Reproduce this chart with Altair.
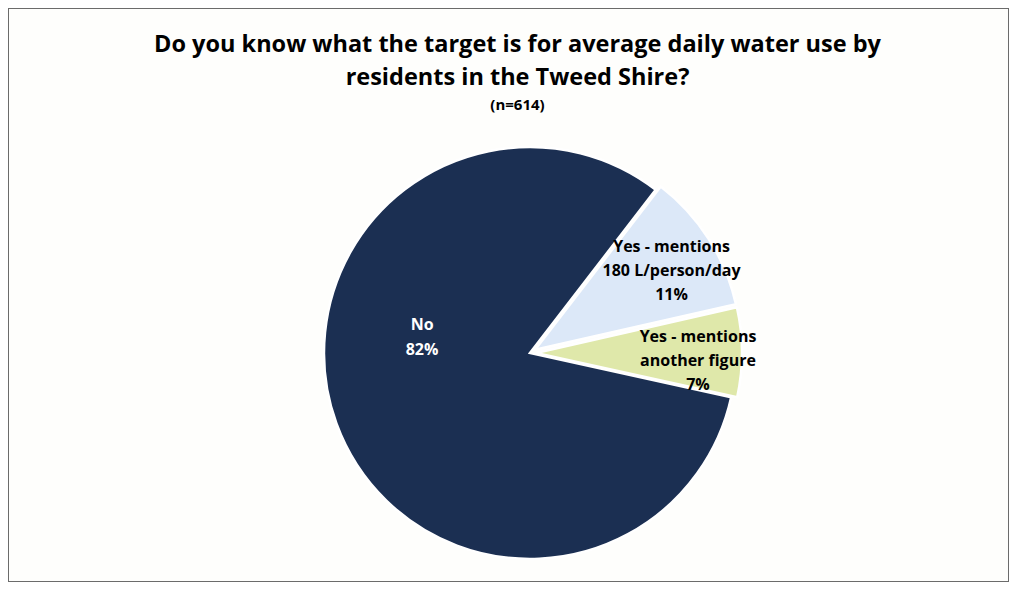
import math
import altair as alt
import pandas as pd

# ---- data ----
categories = ["No", "Yes - mentions 180 L/person/day", "Yes - mentions another figure"]
percents = [82, 11, 7]
label_text = ["No\n82%", "Yes - mentions\n180 L/person/day\n11%", "Yes - mentions\nanother figure\n7%"]
exploded = [0, 1, 1]
slice_order = [1, 2, 3]

colors = ["#1b2f52", "#dce8f8", "#dfe8aa"]

title_lines = ["Do you know what the target is for average daily water use by",
               "residents in the Tweed Shire?"]
subtitle = "(n=614)"

# ---- layout / style ----
W, H = 1001, 574
CX, CY = 522, 345
R = 206
EXPLODE = 6
START = math.radians(102.4)
TWO_PI = 2 * math.pi
FONT = "Open Sans"

df = pd.DataFrame({
    "cat": categories,
    "pct": percents,
    "label": label_text,
    "explode": exploded,
    "ord": slice_order,
})

base = alt.Chart(df).transform_window(
    cum="sum(pct)", sort=[alt.SortField("ord")], frame=[None, 0]
).transform_calculate(
    end="datum.cum",
    start="datum.cum - datum.pct",
    ang=f"{START} + (datum.cum - datum.pct/2) / 100 * {TWO_PI}",
).transform_calculate(
    px=f"{CX} + datum.explode * {EXPLODE} * sin(datum.ang)",
    py=f"{CY} - datum.explode * {EXPLODE} * cos(datum.ang)",
)

theta_scale = alt.Scale(domain=[0, 100], range=[START, START + TWO_PI])

arcs = base.mark_arc(outerRadius=R, stroke="white", strokeWidth=2.5).encode(
    theta=alt.Theta("start:Q", scale=theta_scale, stack=None),
    theta2="end:Q",
    x=alt.X("px:Q", scale=None),
    y=alt.Y("py:Q", scale=None),
    color=alt.Color("cat:N", scale=alt.Scale(domain=categories, range=colors), legend=None),
)

dark_labels = base.transform_filter("datum.ord == 1").transform_calculate(
    lx="datum.px + 109 * sin(datum.ang + 0.49)",
    ly="datum.py - 109 * cos(datum.ang + 0.49)",
).mark_text(
    font=FONT, fontWeight="bold", fontSize=16, color="white",
    lineBreak="\n", lineHeight=25, align="center", baseline="middle", dy=-13,
).encode(
    x=alt.X("lx:Q", scale=None), y=alt.Y("ly:Q", scale=None), text="label:N"
)

light_labels = base.transform_filter("datum.ord != 1").transform_calculate(
    lx="datum.px + 162 * sin(datum.ang)",
    ly="datum.py - 162 * cos(datum.ang)",
).mark_text(
    font=FONT, fontWeight="bold", fontSize=16, color="black",
    lineBreak="\n", lineHeight=24, align="center", baseline="middle", dy=-15,
).encode(
    x=alt.X("lx:Q", scale=None), y=alt.Y("ly:Q", scale=None), text="label:N"
)

chart = alt.layer(arcs, dark_labels, light_labels).properties(
    width=W, height=H,
    padding=0,
    title=alt.TitleParams(
        text=title_lines, subtitle=subtitle,
        font=FONT, fontSize=23.5, fontWeight="bold", color="black", lineHeight=33,
        subtitleFont=FONT, subtitleFontSize=15, subtitleFontWeight="bold",
        subtitleColor="black", subtitlePadding=9,
        anchor="middle", dx=9, offset=-105,
    ),
).configure(
    background="white"
).configure_view(
    stroke="#6b6b6b", strokeWidth=2, fill="#fefefc"
)

chart.save("out.html", embed_options={"renderer": "svg", "actions": False})
